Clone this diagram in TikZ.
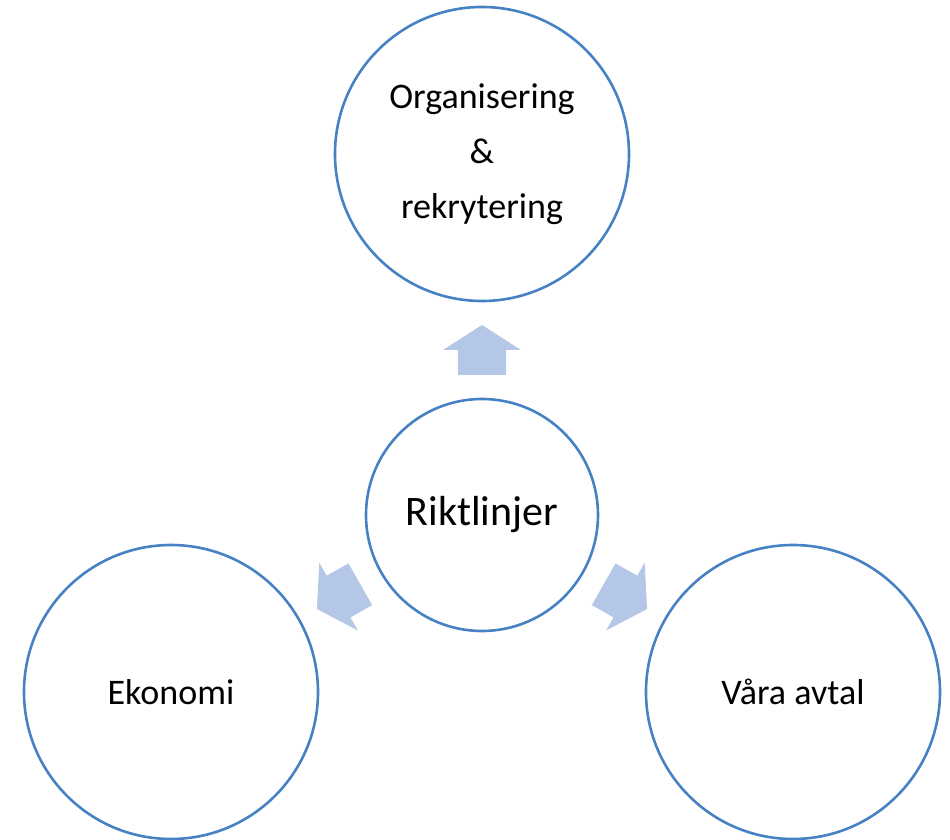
\documentclass[tikz,border=0pt]{standalone}
\usepackage{fontspec}
\setmainfont{Carlito}
\usetikzlibrary{calc}
\definecolor{ringblue}{RGB}{70,130,195}
\definecolor{arrowblue}{RGB}{180,199,231}

\begin{document}
\begin{tikzpicture}[x=1pt,y=1pt,
  main node/.style={circle,draw=ringblue,line width=2.6pt,inner sep=0pt,minimum size=232pt,font=\fontsize{42}{50}\selectfont},
  outer node/.style={main node,minimum size=294pt,align=center,font=\fontsize{36}{55}\selectfont}]
  \useasboundingbox (-482,-325) rectangle (468,515);

  \node[main node] (r) at (0,0) {Riktlinjer};

  \node[outer node] (org) [above of = r, node distance=361pt] {Organisering\\\&\\rekrytering};
  \node[outer node] (eko) [left of = r, node distance=311pt, yshift=-177pt] {Ekonomi};
  \node[outer node] (avt) [right of = r, node distance=311pt, yshift=-177pt] {Våra avtal};

  % block arrows from the middle circle out to each outer circle
  \foreach \t in {org,eko,avt}
    \fill[arrowblue] ($(r)!140pt!(\t)!24pt!90:(\t)$) -- ($(r)!165pt!(\t)!24pt!90:(\t)$)
      -- ($(r)!165pt!(\t)!39pt!90:(\t)$) -- ($(r)!190pt!(\t)$)
      -- ($(r)!165pt!(\t)!39pt!-90:(\t)$) -- ($(r)!165pt!(\t)!24pt!-90:(\t)$)
      -- ($(r)!140pt!(\t)!24pt!-90:(\t)$) -- cycle;
\end{tikzpicture}
\end{document}
